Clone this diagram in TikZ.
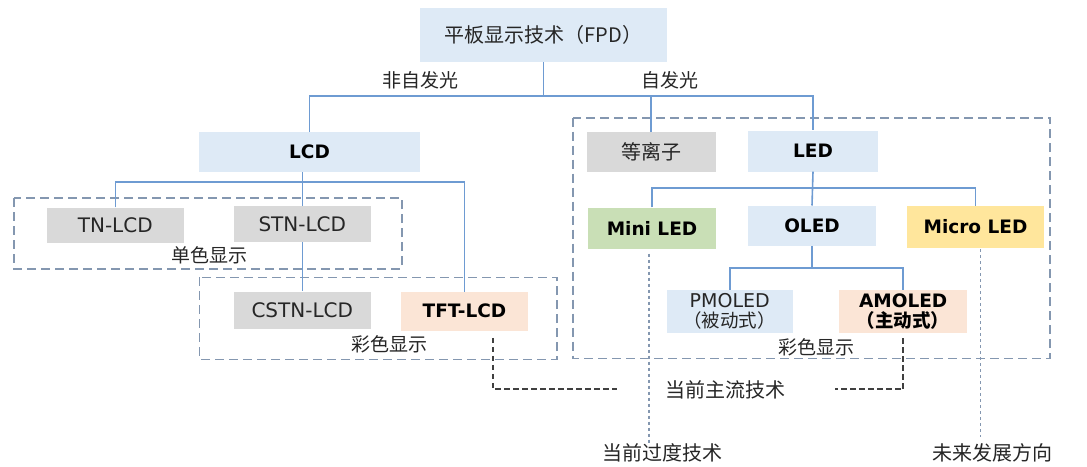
\documentclass[tikz,border=0pt]{standalone}
\usepackage{fontspec}
\setmainfont{DejaVu Sans}
\newfontfamily\cjk{Noto Sans CJK SC}
\definecolor{lblue}{HTML}{DEEAF6}
\definecolor{lgray}{HTML}{D9D9D9}
\definecolor{lgreen}{HTML}{C9DFB6}
\definecolor{lyellow}{HTML}{FFE69C}
\definecolor{lpeach}{HTML}{FBE5D6}
\definecolor{connc}{HTML}{6E9BD2}
\definecolor{grpc}{HTML}{8497B0}
\definecolor{dkc}{HTML}{404040}
\definecolor{txtc}{HTML}{262626}
\newcommand\fsReg{\fontsize{20}{24}\selectfont}
\newcommand\fsBold{\fontsize{18.5}{22}\selectfont\bfseries}
\newcommand\fsCJK{\fontsize{19}{22}\selectfont\cjk}
\begin{document}
\begin{tikzpicture}[x=1pt,y=-1pt,
  bx/.style={inner sep=0pt, anchor=center, text=txtc, align=center},
  conn/.style={draw=connc, line width=1.6pt},
  grp/.style={draw=grpc, line width=1.6pt, dash pattern=on 9pt off 5pt},
  dk/.style={draw=dkc, line width=1.7pt, dash pattern=on 5.5pt off 3.5pt},
  dt/.style={draw=grpc, line width=1.3pt, dash pattern=on 3pt off 3pt},
  lbl/.style={inner sep=0pt, text=txtc, font=\fsCJK}]
\useasboundingbox (0,0) rectangle (1087,466);
\fill[white] (0,0) rectangle (1087,466);
% group frames
\draw[grp] (14,198) rectangle (401.7,268.7);
\draw[grp] (199.3,277.3) rectangle (557,359.3);
\draw[grp] (572.7,117.7) rectangle (1050,358.3);
% boxes
\node[bx, fill=lblue, minimum width=247pt, minimum height=54pt, font=\fontsize{20}{22}\selectfont\cjk] (fpd) at (543.5,35) {平板显示技术（FPD）};
\node[bx, fill=lblue, minimum width=221pt, minimum height=40pt, font=\fsBold, text=black] (lcd) at (309.5,151.7) {LCD};
\node[bx, fill=lgray, minimum width=129pt, minimum height=40pt, font=\fontsize{20}{22}\selectfont\cjk] (plasma) at (651,152) {等离子};
\node[bx, fill=lblue, minimum width=130pt, minimum height=41pt, font=\fsBold, text=black] (led) at (813,151) {LED};
\node[bx, fill=lgray, minimum width=137pt, minimum height=35pt, font=\fsReg] (tn) at (115.3,225) {TN-LCD};
\node[bx, fill=lgray, minimum width=137pt, minimum height=36pt, font=\fsReg] (stn) at (302.3,224.2) {STN-LCD};
\node[bx, fill=lgray, minimum width=137pt, minimum height=37pt, font=\fsReg] (cstn) at (302.3,310) {CSTN-LCD};
\node[bx, fill=lpeach, minimum width=127pt, minimum height=39pt, font=\fsBold, text=black] (tft) at (464.5,311.2) {TFT-LCD};
\node[bx, fill=lgreen, minimum width=128pt, minimum height=41pt, font=\fsBold, text=black] (mini) at (652,228) {Mini LED};
\node[bx, fill=lblue, minimum width=128pt, minimum height=40pt, font=\fsBold, text=black] (oled) at (812,225.7) {OLED};
\node[bx, fill=lyellow, minimum width=137pt, minimum height=42pt, font=\fsBold, text=black] (micro) at (975.5,227) {Micro LED};
\node[bx, fill=lblue, minimum width=126pt, minimum height=43pt, font=\fontsize{18}{20}\selectfont] (pm) at (729.7,311.3) {{\fontsize{19}{20}\selectfont PMOLED}\\{\fontsize{18.5}{20}\selectfont\cjk （被动式）}};
\node[bx, fill=lpeach, minimum width=128pt, minimum height=43pt, text=black, font=\fontsize{18}{20}\selectfont] (am) at (903.2,311.3) {{\fsBold AMOLED}\\{\fontsize{18.5}{20}\selectfont\cjk\bfseries （主动式）}};
% labels
\node[lbl] (nzf) at (420,80) {非自发光};
\node[lbl] (zf) at (669.5,80) {自发光};
\node[lbl] (mono) at (209.5,255) {单色显示};
\node[lbl] (colL) at (389.5,344.3) {彩色显示};
\node[lbl] (colR) at (816.7,347.3) {彩色显示};
\node[lbl, font=\fontsize{20}{22}\selectfont\cjk] (mainst) at (725,390) {当前主流技术};
\node[lbl, font=\fontsize{20}{22}\selectfont\cjk] (trans) at (662.3,453.3) {当前过度技术};
\node[lbl, font=\fontsize{20}{22}\selectfont\cjk] (future) at (992.5,453) {未来发展方向};
% connectors
\coordinate (j0) at (543.5,96);
\draw[conn] (fpd.south) -- (j0);
\draw[conn] (lcd.north) |- (j0) -| (led.north);
\draw[conn] (plasma.north) -- (plasma.north |- j0);
\coordinate (j1) at (302.3,181.7);
\draw[conn] (stn.north) -- (stn.north |- lcd.south);
\draw[conn] (tn.north) |- (j1) -| (tft.north);
\draw[conn] (stn.south) -- (cstn.north);
\coordinate (j2) at (812,187.7);
\draw[conn] (led.south) -- (oled.north);
\draw[conn] (mini.north) |- (j2) -| (micro.north);
\coordinate (j3) at (812,267.7);
\draw[conn] (oled.south) -- (j3);
\draw[conn] (pm.north) |- (j3) -| (am.north);
% highlight connectors
\coordinate (ms1) at (616.7,389.3);
\coordinate (ms2) at (835,389.3);
\draw[dk] ([xshift=28.2pt,yshift=-7pt]tft.south) |- (ms1);
\draw[dk] ([yshift=-5pt]am.south) |- (ms2);
\coordinate (tr1) at (649,443);
\coordinate (fu1) at (980.7,437);
\draw[dt] ([xshift=-3pt,yshift=-5pt]mini.south) -- (tr1);
\draw[dt] ([xshift=5.2pt,yshift=-1pt]micro.south) -- (fu1);
\end{tikzpicture}
\end{document}
